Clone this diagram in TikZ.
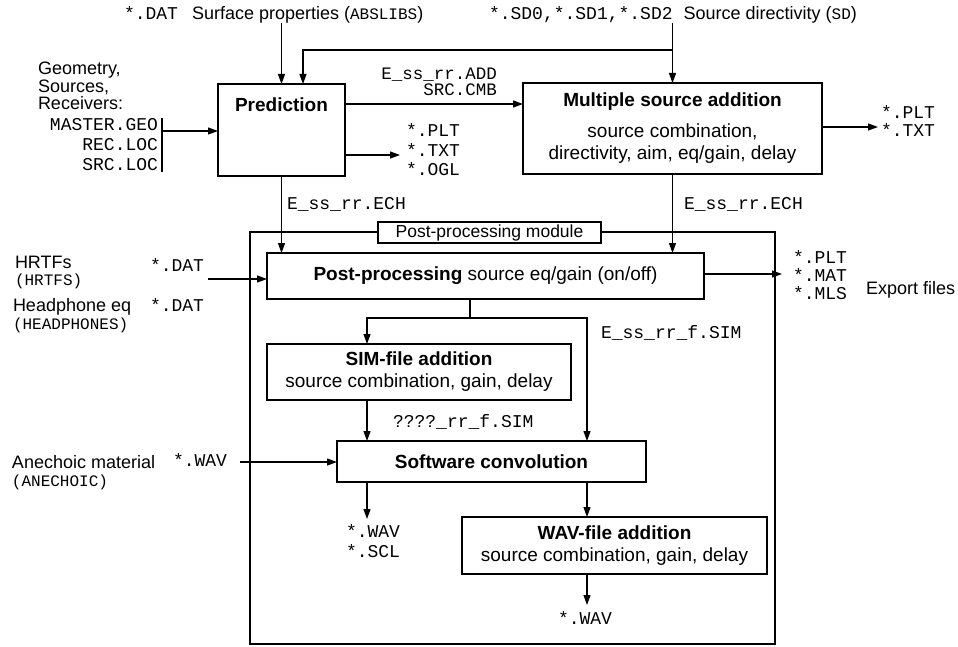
\documentclass[tikz,border=0pt]{standalone}
\usepackage{fontspec}
\setmainfont{Liberation Sans}
\setmonofont{Liberation Mono}
\usetikzlibrary{arrows.meta,calc}
\begin{document}
\begin{tikzpicture}[x=1pt,y=-1pt,
  every node/.style={inner sep=0pt, outer sep=0pt},
  box/.style={draw, line width=1.2pt, align=center, font=\fontsize{19}{22}\selectfont},
  lbl/.style={font=\fontsize{18}{19}\selectfont, align=left},
  fn/.style={font=\ttfamily\fontsize{18}{20}\selectfont, align=left},
  fnsmall/.style={font=\ttfamily\fontsize{16}{18}\selectfont},
  arr/.style={line width=1.2pt, -{Triangle[length=10pt,width=7pt]}},
  ln/.style={line width=1.2pt},
]
\useasboundingbox (0,0) rectangle (958,647);

% top inputs
\node[lbl, anchor=west] (absl) at (124,15) {{\ttfamily\fontsize{18}{20}\selectfont *.DAT}\hspace{14pt}Surface properties ({\ttfamily\fontsize{16}{18}\selectfont ABSLIBS})};
\node[lbl, anchor=west] (sd) at (489,15) {{\ttfamily\fontsize{18}{20}\selectfont *.SD0,*.SD1,*.SD2}\hspace{11pt}Source directivity ({\ttfamily\fontsize{16}{18}\selectfont SD})};

% main boxes
\node[box, minimum width=127pt, minimum height=92pt] (pred) at (281.5,130) {};
\node[font=\bfseries\fontsize{19}{22}\selectfont] (predt) at (281.5,105) {Prediction};
\node[box, minimum width=299pt, minimum height=91pt] (msa) at (672.5,128.5) {\textbf{Multiple source addition}\\[9pt] source combination,\\ directivity, aim, eq/gain, delay};

% post-processing module frame
\node[draw, ln, minimum width=525pt, minimum height=412pt] (frame) at (512.5,438) {};
\node[draw, ln, fill=white, minimum width=223pt, minimum height=21pt, font=\fontsize{17.5}{19}\selectfont] (mod) at (489.5,232.5) {Post-processing module};

\node[box, minimum width=437pt, minimum height=46pt] (pp) at (485.5,276) {\textbf{Post-processing} source eq/gain (on/off)};
\node[box, minimum width=304pt, minimum height=56pt] (sim) at (419,372) {\textbf{SIM-file addition}\\ source combination, gain, delay};
\node[box, minimum width=309pt, minimum height=41pt] (sc) at (491.5,461.5) {\textbf{Software convolution}};
\node[box, minimum width=305pt, minimum height=57pt] (wav) at (614.5,545.5) {\textbf{WAV-file addition}\\ source combination, gain, delay};

% top connectors
\coordinate (j1) at (672.5,50);
\coordinate (j2) at (303,50);
\draw[arr] (absl.south -| pred.north) -- (pred.north);
\draw[arr] (sd.south -| msa.north) -- (msa.north);
\draw[arr] (j1) -- (j2) -- (j2 |- pred.north);

% left geometry inputs
\node[lbl, anchor=north west, font=\fontsize{18}{17.5}\selectfont] (geo) at (38,62) {Geometry,\\Sources,\\Receivers:};
\node[fn, anchor=north east, align=right] (files) at (158,118) {MASTER.GEO\\REC.LOC\\SRC.LOC};
\coordinate (bt) at (162,118);
\coordinate (bb) at (162,172);
\coordinate (fbar) at (162,131);
\draw[ln] (bt) -- (bb);
\draw[arr] (fbar) -- (pred.west |- fbar);

% prediction -> MSA
\coordinate (y104) at (0,104);
\draw[arr] (pred.east |- y104) -- (msa.west |- y104);
\node[fn, anchor=east, align=right, font=\ttfamily\fontsize{17.5}{16.5}\selectfont] (addcmb) at (497,82) {E\_ss\_rr.ADD\\SRC.CMB};

% prediction outputs
\node[fn, anchor=west, font=\ttfamily\fontsize{18}{19.5}\selectfont] (pout) at (406,150) {*.PLT\\*.TXT\\*.OGL};
\coordinate (pa) at (400,155);
\draw[arr] (pred.east |- pa) -- (pa);

% MSA outputs
\node[fn, anchor=west, font=\ttfamily\fontsize{18}{18}\selectfont] (mout) at (881,121) {*.PLT\\*.TXT};
\coordinate (ma) at (878,127);
\draw[arr] (msa.east |- ma) -- (ma);

% ECH connectors
\node[fn, anchor=west] (ech1) at (287,204) {E\_ss\_rr.ECH};
\node[fn, anchor=west] (ech2) at (684,204) {E\_ss\_rr.ECH};
\draw[arr] (pred.south) -- (pred.south |- pp.north);
\draw[arr] (msa.south) -- (msa.south |- pp.north);

% HRTFs / headphones
\node[lbl, anchor=west] (hrtf) at (15,262) {HRTFs};
\node[fnsmall, anchor=west] (hrtfp) at (15,281) {(HRTFS)};
\node[fn, anchor=west] (hrdat) at (150,265) {*.DAT};
\node[lbl, anchor=west] (hp) at (13,307) {Headphone eq};
\node[fnsmall, anchor=west] (hpp) at (13,325) {(HEADPHONES)};
\node[fn, anchor=west] (hpdat) at (150,305) {*.DAT};
\coordinate (ha) at (208,279);
\draw[arr] (ha) -- (pp.west |- ha);

% export
\coordinate (ea) at (782,274);
\draw[arr] (pp.east |- ea) -- (ea);
\node[fn, anchor=west, font=\ttfamily\fontsize{18}{18}\selectfont] (exf) at (793,275) {*.PLT\\*.MAT\\*.MLS};
\node[lbl, anchor=west] (expl) at (866,290) {Export files};

% branch after post-processing
\coordinate (br) at (470,318);
\coordinate (c1) at (367,318);
\coordinate (c2) at (587,318);
\draw[ln] (pp.south -| br) -- (br);
\draw[arr] (br) -- (c1) -- (c1 |- sim.north);
\draw[arr] (br) -- (c2) -- (c2 |- sc.north);
\node[fn, anchor=west] (simlbl) at (601,333) {E\_ss\_rr\_f.SIM};

% SIM -> SC
\draw[arr] (c1 |- sim.south) -- (c1 |- sc.north);
\node[fn, anchor=west] (qlbl) at (393,422) {????\_rr\_f.SIM};

% anechoic
\node[lbl, anchor=west] (ane) at (12,462) {Anechoic material};
\node[fnsmall, anchor=west] (anep) at (12,482) {(ANECHOIC)};
\node[fn, anchor=west] (anwav) at (173,460) {*.WAV};
\coordinate (aa) at (240,462);
\draw[arr] (aa) -- (sc.west |- aa);

% SC outputs
\node[fn, anchor=north west] (scout) at (346,524) {*.WAV\\*.SCL};
\coordinate (so) at (367,519);
\draw[arr] (c1 |- sc.south) -- (so);
\draw[arr] (c2 |- sc.south) -- (c2 |- wav.north);

% WAV output
\node[fn] (wout) at (585,618) {*.WAV};
\coordinate (wo) at (587,605);
\draw[arr] (c2 |- wav.south) -- (wo);
\end{tikzpicture}
\end{document}
